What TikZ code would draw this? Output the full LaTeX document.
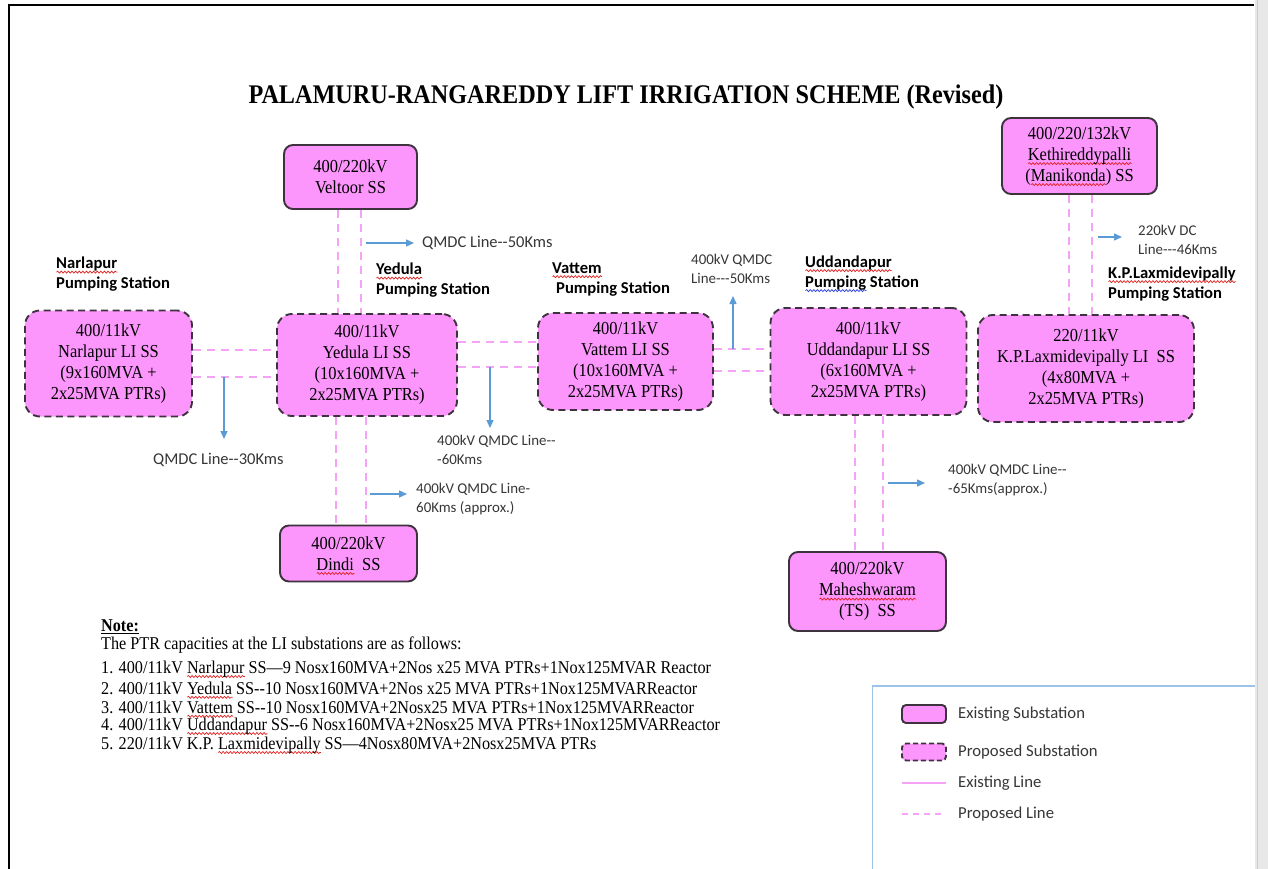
\documentclass[tikz,border=0pt]{standalone}
\usepackage{fontspec}
\setmainfont{Liberation Serif}[FakeStretch=0.9]
\newfontfamily\lblfamily{Carlito}
\usetikzlibrary{arrows.meta,decorations.pathmorphing}

\definecolor{boxfill}{RGB}{252,150,252}
\definecolor{boxline}{RGB}{62,50,62}
\definecolor{pinkline}{RGB}{246,162,246}
\definecolor{arrowblue}{RGB}{91,155,213}
\definecolor{qgray}{RGB}{55,55,55}
\definecolor{legline}{RGB}{157,195,230}
\definecolor{stripgray}{RGB}{232,232,232}
\definecolor{stripline}{RGB}{205,205,205}
\definecolor{waveblue}{RGB}{40,60,220}
\definecolor{wavered}{RGB}{225,30,30}

% spell-check style wavy underlines, drawn as small paths under a word
\newsavebox\wavybox
\newdimen\wavyw
\newcommand\wavy[2]{\sbox\wavybox{#2}\wavyw=\wd\wavybox
  \rlap{\smash{\tikz[baseline=0pt,x=1pt,y=1pt]\draw[#1,solid,sharp corners,line width=0.7pt,decorate,
      decoration={snake,amplitude=1pt,segment length=3.6pt}] (0,-3.2) -- (\wavyw,-3.2);}}%
  \usebox\wavybox}
\newcommand\spl[1]{\wavy{wavered}{#1}}
\newcommand\splb[1]{\wavy{waveblue}{#1}}
% literal double / triple hyphens
\newcommand\dd{-\kern0pt-}
\newcommand\ddd{-\kern0pt-\kern0pt-}

\newcommand\boxtext{\fontsize{18.3}{21}\selectfont}
\newcommand\lblbold{\lblfamily\bfseries\fontsize{16.6}{20}\selectfont}
\newcommand\lblreg{\lblfamily\fontsize{14.9}{19}\selectfont}
\newcommand\lblregl{\lblfamily\fontsize{16.5}{19}\selectfont}
\newcommand\notetext{\fontsize{18}{18.75}\selectfont}
\newcommand\legtext{\lblfamily\fontsize{16.7}{19}\selectfont}

\tikzset{
  exist/.style={draw=boxline, fill=boxfill, line width=1.9pt, rounded corners=9pt,
                align=center, font=\boxtext, inner sep=0pt},
  prop/.style={exist, dash pattern=on 7pt off 4.5pt, rounded corners=15pt},
  pline/.style={draw=pinkline, line width=1.5pt, dash pattern=on 8pt off 6pt},
  eline/.style={draw=pinkline, line width=1.5pt},
  barrow/.style={draw=arrowblue, line width=1.4pt, -{Triangle[length=8pt,width=7pt]}},
  lbl/.style={font=\lblbold, align=left, anchor=west, inner sep=0pt},
  qlbl/.style={font=\lblreg, text=qgray, align=left, anchor=west, inner sep=0pt},
  qlbll/.style={qlbl, font=\lblregl},
  notel/.style={font=\notetext, anchor=west, inner sep=0pt},
  legl/.style={font=\legtext, text=qgray, anchor=west, inner sep=0pt},
}

\begin{document}
\begin{tikzpicture}[x=1pt,y=-1pt]
\useasboundingbox (0,0) rectangle (1268,869);
\fill[white] (0,0) rectangle (1268,869);

% page frame
\fill[stripgray] (1255,0) rectangle (1268,869);
\draw[stripline, line width=1.2pt] (1257.5,0) -- (1257.5,869);
\draw[line width=2.6pt] (9,869) -- (9,5) -- (1254,5);

% title
\node[font=\bfseries\fontsize{26.9}{30}\selectfont, inner sep=0pt] (title) at (626,97)
  {PALAMURU-RANGAREDDY LIFT IRRIGATION SCHEME (Revised)};

% substations
\node[exist, minimum width=133pt, minimum height=64pt] (veltoor) at (350.5,177)
  {400/220kV\\Veltoor SS};
\node[exist, minimum width=155pt, minimum height=76pt] (kethi) at (1079.5,156)
  {400/220/132kV\\\spl{Kethireddypalli}\\(\spl{Manikonda}) SS};
\node[prop, minimum width=167pt, minimum height=106pt] (narlapur) at (108.5,363.5)
  {400/11kV\\Narlapur LI SS\\(9x160MVA +\\2x25MVA PTRs)};
\node[prop, minimum width=180pt, minimum height=102pt] (yedula) at (367,365)
  {400/11kV\\Yedula LI SS\\(10x160MVA +\\2x25MVA PTRs)};
\node[prop, minimum width=175pt, minimum height=97pt] (vattem) at (625.5,361.5)
  {400/11kV\\Vattem LI SS\\(10x160MVA +\\2x25MVA PTRs)};
\node[prop, minimum width=196pt, minimum height=107pt] (uddan) at (868.5,361.5)
  {400/11kV\\Uddandapur LI SS\\(6x160MVA +\\2x25MVA PTRs)};
\node[prop, minimum width=216pt, minimum height=107pt] (kp) at (1086,368.5)
  {220/11kV\\K.P.Laxmidevipally LI\ \ SS\\(4x80MVA +\\2x25MVA PTRs)};
\node[exist, minimum width=137pt, minimum height=56pt] (dindi) at (348.5,553.5)
  {400/220kV\\\spl{Dindi}\ \ SS};
\node[exist, minimum width=157pt, minimum height=79pt] (mahesh) at (867.5,591.5)
  {400/220kV\\\spl{Maheshwaram}\\(TS)\ \ SS};

% proposed double-circuit lines
\draw[pline] (veltoor.south -| 338,0) -- (yedula.north -| 338,0);
\draw[pline] (veltoor.south -| 361,0) -- (yedula.north -| 361,0);
\draw[pline] (narlapur.east |- 0,350) -- (yedula.west |- 0,350);
\draw[pline] (narlapur.east |- 0,377) -- (yedula.west |- 0,377);
\draw[pline] (yedula.east |- 0,342) -- (vattem.west |- 0,342);
\draw[pline] (yedula.east |- 0,367) -- (vattem.west |- 0,367);
\draw[pline] (vattem.east |- 0,349) -- (uddan.west |- 0,349);
\draw[pline] (vattem.east |- 0,371) -- (uddan.west |- 0,371);
\draw[pline] (yedula.south -| 336,0) -- (dindi.north -| 336,0);
\draw[pline] (yedula.south -| 366,0) -- (dindi.north -| 366,0);
\draw[pline] (uddan.south -| 855,0) -- (mahesh.north -| 855,0);
\draw[pline] (uddan.south -| 883,0) -- (mahesh.north -| 883,0);
\draw[pline] (kethi.south -| 1069,0) -- (kp.north -| 1069,0);
\draw[pline] (kethi.south -| 1092,0) -- (kp.north -| 1092,0);

% line length markers
\coordinate (a1s) at (366,243);  \coordinate (a1e) at (414,243);
\coordinate (a2s) at (224,377);  \coordinate (a2e) at (224,439);
\coordinate (a3s) at (490,367);  \coordinate (a3e) at (490,428);
\coordinate (a4s) at (370,494);  \coordinate (a4e) at (407,494);
\coordinate (a5s) at (733,349);  \coordinate (a5e) at (733,296);
\coordinate (a6s) at (888,483);  \coordinate (a6e) at (925,483);
\coordinate (a7s) at (1098,237); \coordinate (a7e) at (1122,237);
\foreach \i in {1,...,7} \draw[barrow] (a\i s) -- (a\i e);

\node[qlbll] (q1) at (422,243) {QMDC Line\dd50Kms};
\node[qlbll] (q2) at (153,460) {QMDC Line\dd30Kms};
\node[qlbl] (q3) at (437,449.5) {400kV QMDC Line\dd\\-60Kms};
\node[qlbl] (q4) at (416,499) {400kV QMDC Line-\\60Kms (approx.)};
\node[qlbl] (q5) at (691,268.5) {400kV QMDC\\Line\ddd50Kms};
\node[qlbl] (q6) at (948,480) {400kV QMDC Line\dd\\-65Kms(approx.)};
\node[qlbl] (q7) at (1138,239.5) {220kV DC\\Line\ddd46Kms};

% pumping stations
\node[lbl] (p1) at (56,274.5) {\spl{Narlapur}\\Pumping Station};
\node[lbl] (p2) at (376,280.5) {\spl{Yedula}\\Pumping Station};
\node[lbl] (p3) at (552,279.5) {\spl{Vattem}\\\hspace*{4pt}Pumping Station};
\node[lbl] (p4) at (805,273) {\spl{Uddandapur}\\\splb{Pumping} Station};
\node[lbl] (p5) at (1108,284) {\spl{K.P.Laxmidevipally}\\Pumping Station};

% note
\node[notel, font=\notetext\bfseries] (n0) at (101,627) {\underline{Note:}};
\node[notel] (n1) at (101,645) {The PTR capacities at the LI substations are as follows:};
\node[notel] (n2) at (101,669) {1. 400/11kV \spl{Narlapur} SS—9 Nosx160MVA+2Nos x25 MVA PTRs+1Nox125MVAR Reactor};
\node[notel] (n3) at (101,688) {2. 400/11kV \spl{Yedula} SS\dd10 Nosx160MVA+2Nos x25 MVA PTRs+1Nox125MVARReactor};
\node[notel] (n4) at (101,707) {3. 400/11kV \spl{Vattem} SS\dd10 Nosx160MVA+2Nosx25 MVA PTRs+1Nox125MVARReactor};
\node[notel] (n5) at (101,726) {4. 400/11kV \spl{Uddandapur} SS\dd6 Nosx160MVA+2Nosx25 MVA PTRs+1Nox125MVARReactor};
\node[notel] (n6) at (101,745) {5. 220/11kV K.P. \spl{Laxmidevipally} SS—4Nosx80MVA+2Nosx25MVA PTRs};

% legend
\draw[legline, line width=1.2pt] (872.5,869) -- (872.5,686) -- (1255,686);
\node[exist, minimum width=44pt, minimum height=18pt, rounded corners=4pt] (lg1) at (924,714) {};
\node[prop, minimum width=44pt, minimum height=17pt, rounded corners=4pt, dash pattern=on 5pt off 3pt] (lg2) at (924,752) {};
\coordinate (lg3a) at (902,783); \coordinate (lg3b) at (946,783);
\coordinate (lg4a) at (902,814); \coordinate (lg4b) at (946,814);
\draw[eline] (lg3a) -- (lg3b);
\draw[pline, dash pattern=on 6pt off 5pt] (lg4a) -- (lg4b);
\node[legl] (t1) at (958,714) {Existing Substation};
\node[legl] (t2) at (958,752) {Proposed Substation};
\node[legl] (t3) at (958,783) {Existing Line};
\node[legl] (t4) at (958,814) {Proposed Line};
\end{tikzpicture}
\end{document}
